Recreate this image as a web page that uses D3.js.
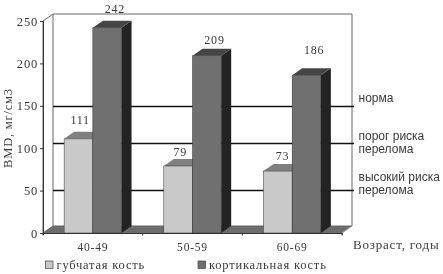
<!DOCTYPE html>
<html>
<head>
<meta charset="utf-8">
<script src="https://cdn.jsdelivr.net/npm/d3@7"></script>
<style>
html, body { margin: 0; padding: 0; background: #fff; overflow: hidden; }
svg { display: block; filter: blur(0.35px); }
text { fill: #3a3a3a; }
.serif { font-family: "Liberation Serif", serif; letter-spacing: 0.8px; }
.sans { font-family: "Liberation Sans", sans-serif; }
</style>
</head>
<body>
<div id="chart"></div>
<script>
var categories = ["40-49", "50-59", "60-69"];
var seriesNames = ["губчатая кость", "кортикальная кость"];
var spongy = [111, 79, 73];
var cortical = [242, 209, 186];
var yTicks = [0, 50, 100, 150, 200, 250];
var levels = [150, 106, 51];
var levelLabels = [["норма"], ["порог риска", "перелома"], ["высокий риска", "перелома"]];

// hand placed label offsets, the original has them all over the place
var labelTops = [102, 140, 181];
var spongyLabelDx = [16, 16.5, 19], spongyLabelDy = [-15, -10, -11];
var corticalLabelDx = [22, 22, 22], corticalLabelDy = [-14.5, -11.3, -21];

var width = 443, height = 274;
var plotLeft = 43, plotRight = 342, plotBottom = 233, plotTop = 21;
var depthX = 10, depthY = 7;
var barWidth = 28.7;

var colors = {
    light: "#c9c9c9", lightTop: "#7f7f7f",
    dark: "#707070", darkTop: "#454545", side: "#232323",
    floor: "#6c6c6c", wall: "#666666", line: "#111111"
};

var svg = d3.select("#chart")
    .append("svg")
    .attr("width", width)
    .attr("height", height);

var x = d3.scaleBand().domain(categories).range([plotLeft, plotRight]);
var xInner = d3.scaleBand().domain(seriesNames).range([x.bandwidth() / 2 - barWidth, x.bandwidth() / 2 + barWidth]);
var y = d3.scaleLinear().domain([0, 250]).range([plotBottom, plotTop]);

function poly(points) {
    return d3.line()(points) + "Z";
}

// walls and floor
svg.append("path")
    .attr("d", poly([[plotLeft, plotBottom], [plotLeft + depthX, plotBottom - depthY], [plotRight + depthX, plotBottom - depthY], [plotRight, plotBottom]]))
    .attr("fill", colors.floor);
svg.append("path")
    .attr("d", poly([[plotLeft, y(250)], [plotLeft + depthX, y(250) - depthY], [plotRight + depthX, y(250) - depthY], [plotRight + depthX, plotBottom - depthY], [plotLeft + depthX, plotBottom - depthY], [plotLeft, plotBottom]]))
    .attr("fill", "none")
    .attr("stroke", colors.wall);
svg.append("line")
    .attr("x1", plotLeft + depthX).attr("x2", plotLeft + depthX)
    .attr("y1", y(250) - depthY).attr("y2", plotBottom - depthY)
    .attr("stroke", colors.wall);
svg.append("line")
    .attr("x1", plotRight).attr("x2", plotRight + depthX)
    .attr("y1", plotBottom).attr("y2", plotBottom - depthY)
    .attr("stroke", "#999");

// threshold lines
svg.selectAll("line.level")
    .data(levels)
    .enter()
    .append("line")
    .attr("class", "level")
    .attr("x1", plotLeft + depthX)
    .attr("x2", plotRight + depthX + 2)
    .attr("y1", function(d) { return Math.round(y(d)) + 0.5; })
    .attr("y2", function(d) { return Math.round(y(d)) + 0.5; })
    .attr("stroke", colors.line)
    .attr("stroke-width", 1.5);

function drawBar(g, name, value, front, topColor, labelDx, labelDy) {
    var x0 = xInner(name);
    var x1 = x0 + xInner.bandwidth();
    var yv = y(value);
    g.append("path")
        .attr("d", poly([[x1, yv], [x1 + depthX, yv - depthY], [x1 + depthX, plotBottom - depthY], [x1, plotBottom]]))
        .attr("fill", colors.side);
    g.append("path")
        .attr("d", poly([[x0, yv], [x0 + depthX, yv - depthY], [x1 + depthX, yv - depthY], [x1, yv]]))
        .attr("fill", topColor);
    g.append("rect")
        .attr("x", x0)
        .attr("y", yv)
        .attr("width", x1 - x0)
        .attr("height", plotBottom - yv)
        .attr("fill", front)
        .attr("stroke", "#333")
        .attr("stroke-width", 0.5);
    g.append("text")
        .attr("class", "serif")
        .attr("x", x0 + labelDx)
        .attr("y", yv + labelDy)
        .attr("text-anchor", "middle")
        .attr("font-size", 12)
        .text(value);
}

var groups = svg.selectAll("g.group")
    .data(categories)
    .enter()
    .append("g")
    .attr("class", "group")
    .attr("transform", function(d) { return "translate(" + x(d) + ",0)"; });

groups.each(function(d, i) {
    var g = d3.select(this);
    drawBar(g, seriesNames[0], spongy[i], colors.light, colors.lightTop, spongyLabelDx[i], spongyLabelDy[i]);
    drawBar(g, seriesNames[1], cortical[i], colors.dark, colors.darkTop, corticalLabelDx[i], corticalLabelDy[i]);
});

// axes
var yAxis = d3.axisLeft(y).tickValues(yTicks).tickSize(3).tickPadding(2);
var yG = svg.append("g")
    .attr("transform", "translate(" + plotLeft + ",0)")
    .call(yAxis);
yG.selectAll("text")
    .attr("class", "serif")
    .attr("font-size", 12.5);
yG.selectAll("path, line").attr("stroke", "#333");

var xAxis = d3.axisBottom(x).tickSize(2).tickPadding(8);
var xG = svg.append("g")
    .attr("transform", "translate(0," + plotBottom + ")")
    .call(xAxis);
xG.selectAll("text")
    .attr("class", "serif")
    .attr("font-size", 11.5);
xG.selectAll(".tick line").remove();
xG.selectAll("path").attr("stroke", "#333");
svg.selectAll("line.xtick")
    .data(d3.range(categories.length + 1))
    .enter()
    .append("line")
    .attr("class", "xtick")
    .attr("x1", function(d) { return plotLeft + d * x.bandwidth(); })
    .attr("x2", function(d) { return plotLeft + d * x.bandwidth(); })
    .attr("y1", plotBottom)
    .attr("y2", plotBottom + 2.5)
    .attr("stroke", "#333");

// axis titles
svg.append("text")
    .attr("class", "serif")
    .attr("transform", "translate(12,128) rotate(-90)")
    .attr("text-anchor", "middle")
    .attr("font-size", 12.5)
    .text("BMD, мг/см3");
svg.append("text")
    .attr("class", "serif")
    .attr("x", 353)
    .attr("y", 248.5)
    .attr("font-size", 13)
    .text("Возраст, годы");

// level labels
levelLabels.forEach(function(rows, i) {
    rows.forEach(function(row, j) {
        svg.append("text")
            .attr("class", "sans")
            .attr("x", 358.5)
            .attr("y", labelTops[i] + j * 13)
            .attr("font-size", 12)
            .text(row);
    });
});

// legend
var legendX = d3.scaleOrdinal().domain(seriesNames).range([45.5, 198]);
var legendColor = d3.scaleOrdinal().domain(seriesNames).range([colors.light, colors.dark]);
var legend = svg.selectAll("g.legend")
    .data(seriesNames)
    .enter()
    .append("g")
    .attr("class", "legend")
    .attr("transform", function(d) { return "translate(" + legendX(d) + ",261)"; });
legend.append("rect")
    .attr("width", 7.5)
    .attr("height", 7.5)
    .attr("fill", function(d) { return legendColor(d); })
    .attr("stroke", "#444")
    .attr("stroke-width", 0.7);
legend.append("text")
    .attr("class", "serif")
    .attr("x", 11)
    .attr("y", 7.5)
    .attr("font-size", 12.5)
    .text(function(d) { return d; });
</script>
</body>
</html>
